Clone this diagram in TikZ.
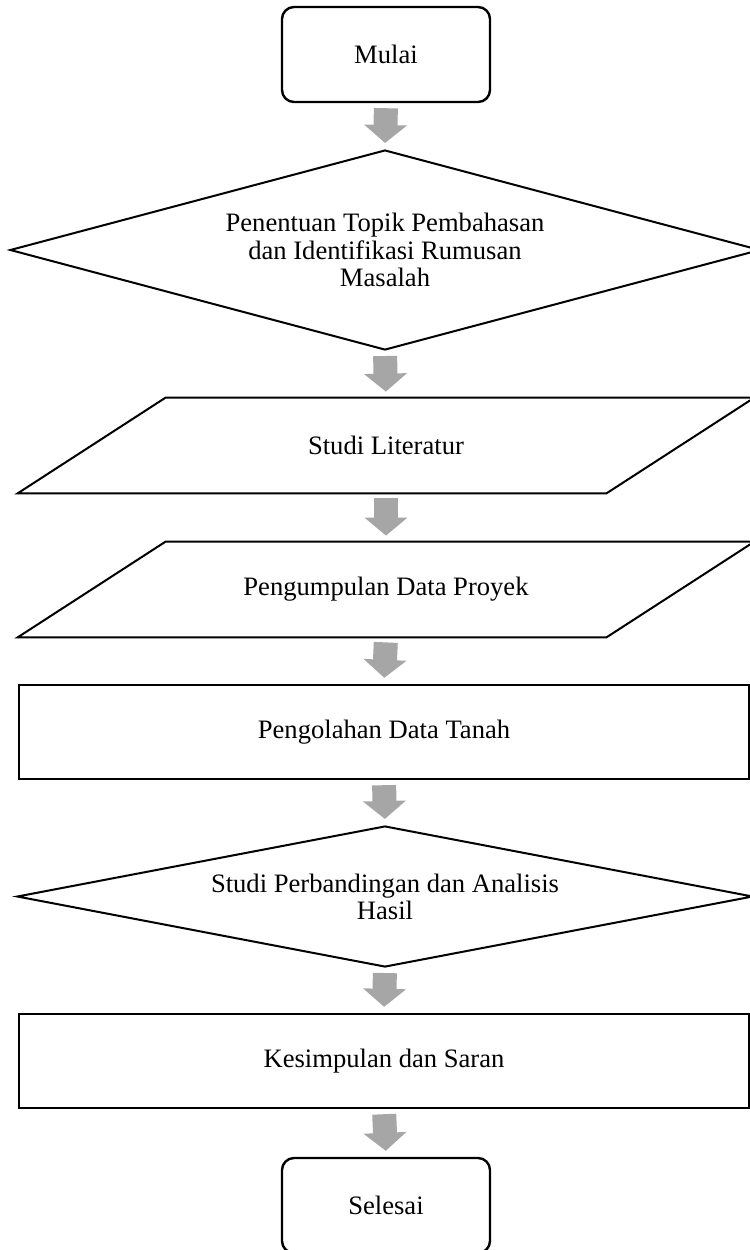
\documentclass[tikz,border=0pt]{standalone}
\usepackage{fontspec}
\setmainfont{Liberation Serif}
\usetikzlibrary{shapes.geometric,arrows.meta}
\definecolor{arrowgray}{RGB}{166,166,166}

\begin{document}
\begin{tikzpicture}[x=0.5pt, y=-0.5pt,
  every node/.style={font=\fontsize{13.3}{13.6}\selectfont, align=center, inner sep=0pt},
  terminal/.style={draw, rounded corners=6pt, line width=1.2pt, minimum width=104pt, minimum height=47.5pt},
  decision/.style={draw, diamond, line width=1pt},
  io/.style={minimum width=294pt, minimum height=47.5pt},
  iobox/.style={line width=1pt, line join=miter},
  process/.style={draw, line width=1.2pt, minimum width=365pt, minimum height=47pt},
  flow/.style={arrowgray, line width=12pt, -{Triangle[width=21pt,length=9pt]}, shorten <=2.5pt, shorten >=3pt}]

% Frame
\useasboundingbox (0,0) rectangle (750,1250);

% Steps
\node[terminal] (mulai) at (386,54.5) {Mulai};
\node[decision, aspect=3.75, minimum width=375pt, minimum height=100pt] (topik) at (385,250) {Penentuan Topik Pembahasan\\dan Identifikasi Rumusan\\Masalah};
\node[io] (literatur) at (386,445.5) {Studi Literatur};
\node[io] (proyek) at (386,589.5) {Pengumpulan Data Proyek};
\node[process] (tanah) at (384,732) {Pengolahan Data Tanah};
\node[decision, aspect=5.2, minimum width=368pt, minimum height=70.5pt] (analisis) at (385,896.5) {Studi Perbandingan dan Analisis\\Hasil};
\node[process] (saran) at (384,1061) {Kesimpulan dan Saran};
\node[terminal] (selesai) at (386,1205.5) {Selesai};

% Parallelogram outlines
\foreach \n in {literatur,proyek}
  \draw[iobox] ([xshift=-37pt]\n.south west) -- ([xshift=-37pt]\n.south east)
    -- ([xshift=37pt]\n.north east) -- ([xshift=37pt]\n.north west) -- cycle;

% Block arrows
\draw[flow] (mulai.south) -- (topik.north);
\draw[flow] (topik.south) -- (literatur.north);
\draw[flow] (literatur.south) -- (proyek.north);
\draw[flow] (proyek.south) -- (tanah.north);
\draw[flow] (tanah.south) -- (analisis.north);
\draw[flow] (analisis.south) -- (saran.north);
\draw[flow] (saran.south) -- (selesai.north);
\end{tikzpicture}
\end{document}
